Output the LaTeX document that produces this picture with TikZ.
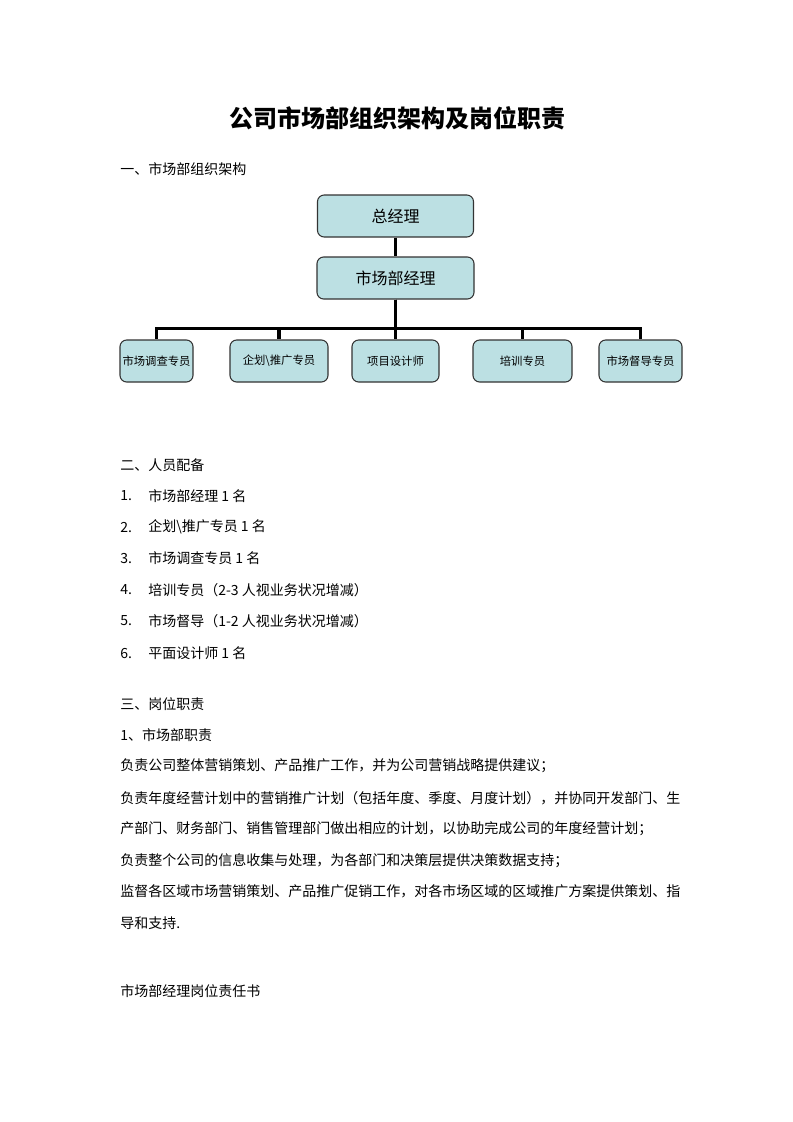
\documentclass[tikz,border=0pt]{standalone}
\usepackage{fontspec}
\setmainfont{Noto Sans CJK SC}
\usepackage{xcolor}
\definecolor{boxfill}{RGB}{188,224,227}

\begin{document}
\begin{tikzpicture}[x=0.75pt,y=-0.75pt,
	post/.style={draw=black!80,line width=0.8pt,rounded corners=5pt,fill=boxfill,minimum height=31.5pt,inner sep=0pt,font=\fontsize{12}{14}\selectfont},
	staff/.style={post,font=\fontsize{8.5}{10}\selectfont},
	link/.style={line width=2.6pt},
	txt/.style={anchor=west,inner sep=0pt,font=\fontsize{10.5}{12}\selectfont}]
	\useasboundingbox (0,0) rectangle (793,1122);
	\node [font=\fontsize{18}{20}\selectfont\bfseries] (title) at (397,118) {公司市场部组织架构及岗位职责};
	\node [txt] (sec1) at (120,169) {一、市场部组织架构};

	\node [post,minimum width=117pt] (gm) at (395.5,216) {总经理};
	\node [post,minimum width=117.75pt] (mm) at (395.5,278) {市场部经理};
	\node [staff,minimum width=54.75pt] (c1) at (156.5,361) {市场调查专员};
	\node [staff,minimum width=73.5pt] (c2) at (279,361) {企划\textbackslash 推广专员};
	\node [staff,minimum width=65.25pt] (c3) at (395.5,361) {项目设计师};
	\node [staff,minimum width=74.25pt] (c4) at (522.5,361) {培训专员};
	\node [staff,minimum width=62.25pt] (c5) at (640.5,361) {市场督导专员};
	\draw [link] (gm) -- (mm);
	\foreach \n in {c1,c2,c3,c4,c5}
		\draw [link] (mm.south) -- ++(0,29) -| (\n.north);

	\node [txt] (sec2) at (120,465) {二、人员配备};
	\node [txt] (n1) at (120,496) {1.};
	\node [txt] (p1) at (148,496) {市场部经理 1 名};
	\node [txt] (n2) at (120,527) {2.};
	\node [txt] (p2) at (148,527) {企划\textbackslash 推广专员 1 名};
	\node [txt] (n3) at (120,558) {3.};
	\node [txt] (p3) at (148,558) {市场调查专员 1 名};
	\node [txt] (n4) at (120,590) {4.};
	\node [txt] (p4) at (148,590) {培训专员（2-3 人视业务状况增减）};
	\node [txt] (n5) at (120,621) {5.};
	\node [txt] (p5) at (148,621) {市场督导（1-2 人视业务状况增减）};
	\node [txt] (n6) at (120,653) {6.};
	\node [txt] (p6) at (148,653) {平面设计师 1 名};

	\node [txt] (sec3) at (120,704) {三、岗位职责};
	\node [txt] (duty) at (120,735) {1、市场部职责};
	\node [txt] (d1) at (120,766) {负责公司整体营销策划、产品推广工作，并为公司营销战略提供建议；};
	\node [txt] (d2) at (120,798) {负责年度经营计划中的营销推广计划（包括年度、季度、月度计划），并协同开发部门、生};
	\node [txt] (d2b) at (120,829) {产部门、财务部门、销售管理部门做出相应的计划，以协助完成公司的年度经营计划；};
	\node [txt] (d3) at (120,861) {负责整个公司的信息收集与处理，为各部门和决策层提供决策数据支持；};
	\node [txt] (d4) at (120,891) {监督各区域市场营销策划、产品推广促销工作，对各市场区域的区域推广方案提供策划、指};
	\node [txt] (d4b) at (120,923) {导和支持.};
	\node [txt] (book) at (120,991) {市场部经理岗位责任书};
\end{tikzpicture}
\end{document}
